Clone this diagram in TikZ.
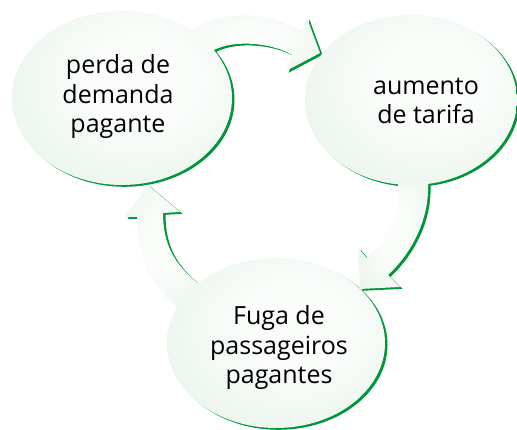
\documentclass[tikz,border=0pt]{standalone}
\usepackage{fontspec}
\setmainfont{Open Sans}
\definecolor{edgeg}{RGB}{208,233,213}
\definecolor{midg}{RGB}{233,244,235}
\definecolor{cw}{RGB}{251,253,251}
\definecolor{strokeg}{RGB}{0,150,57}
\pgfdeclareradialshading{bubble}{\pgfpoint{6bp}{6bp}}{color(0bp)=(cw); color(12bp)=(cw); color(34bp)=(midg); color(50bp)=(edgeg); color(70bp)=(edgeg)}
\pgfdeclareradialshading{bandshade}{\pgfpoint{0bp}{0bp}}{color(0bp)=(cw); color(10bp)=(cw); color(36bp)=(midg); color(56bp)=(edgeg); color(80bp)=(edgeg)}
\newcommand{\ellA}{(122,98) ellipse [x radius=110pt, y radius=87pt]}
\newcommand{\ellB}{(411,100) ellipse [x radius=106pt, y radius=85pt]}
\newcommand{\ellC}{(276,343) ellipse [x radius=109pt, y radius=85pt]}
\newcommand{\arrTop}{(185,55) -- (190,32) .. controls (212,14) and (262,6) .. (301,32) -- (307,18) -- (320,53) -- (286,71) -- (292,55) .. controls (275,44) and (235,38) .. (212,51) -- cycle}
\newcommand{\arrRight}{(428,170) -- (428,186) .. controls (429,215) and (415,250) .. (388,275) -- (400,287) -- (360,289) -- (358,248) -- (367,258) .. controls (390,235) and (400,215) .. (398,186) -- (398,170) -- cycle}
\newcommand{\arrLeft}{(200,300) -- (178,307) .. controls (150,285) and (137,255) .. (137,217) -- (125,217) -- (148,185) -- (180,212) -- (163,213) .. controls (163,245) and (175,265) .. (198,283) -- cycle}
\tikzset{
  lbl/.style={align=center, font=\fontsize{25}{29.5}\selectfont, inner sep=0pt, text=black},
  shadowfill/.style={fill=strokeg},
  bubblefill/.style={shading=bubble},
  bandfill/.style={shading=bandshade}
}
\begin{document}
\begin{tikzpicture}[x=1pt,y=-1pt]
\useasboundingbox[fill=white] (0,0) rectangle (517,430);
% shadows
\begin{scope}[shift={(2.5,1.8)}]
  \fill[shadowfill] \arrTop;
  \fill[shadowfill] \arrRight;
  \fill[shadowfill] \arrLeft;
  \fill[shadowfill] \ellA;
  \fill[shadowfill] \ellB;
  \fill[shadowfill] \ellC;
\end{scope}
% arrows
\shade[bandfill] \arrTop;
\shade[bandfill] \arrRight;
\shade[bandfill] \arrLeft;
% bubbles
\shade[bubblefill] \ellA;
\shade[bubblefill] \ellB;
\shade[bubblefill] \ellC;
% labels
\node[lbl] (perda) at (118,97) {perda de\\demanda\\pagante};
\node[lbl] (aumento) at (426,101) {aumento\\de tarifa};
\node[lbl] (fuga) at (279,348) {Fuga de\\passageiros\\pagantes};
\end{tikzpicture}
\end{document}
